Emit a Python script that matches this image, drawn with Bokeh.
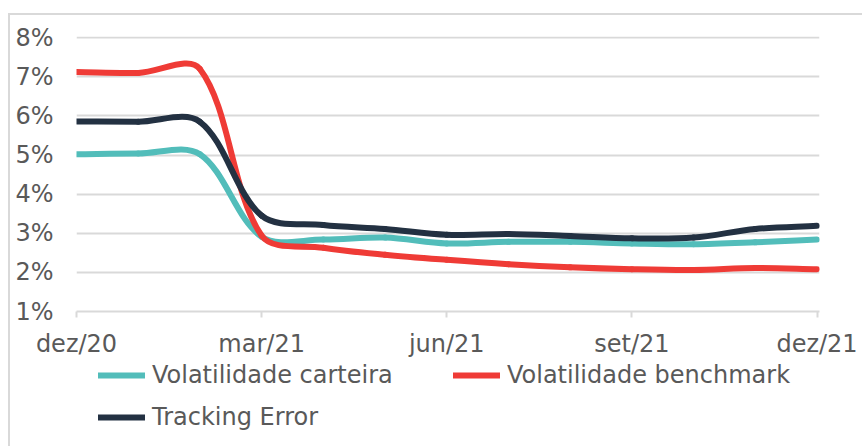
import math
from bokeh.plotting import figure
from bokeh.models import Range1d, FixedTicker, Legend, LegendItem
from bokeh.layouts import column
from bokeh.embed import file_html
from bokeh.resources import INLINE

# ---- data (values in %) ----
months = ["dez/20", "jan/21", "fev/21", "mar/21", "abr/21", "mai/21", "jun/21",
          "jul/21", "ago/21", "set/21", "out/21", "nov/21", "dez/21"]
month_idx = list(range(len(months)))
vol_carteira = [5.02, 5.04, 5.02, 2.91, 2.84, 2.89, 2.74, 2.78, 2.78, 2.74, 2.72, 2.77, 2.84]
vol_benchmark = [7.12, 7.10, 7.20, 2.94, 2.63, 2.45, 2.32, 2.21, 2.13, 2.08, 2.06, 2.11, 2.08]
tracking_error = [5.86, 5.85, 5.85, 3.45, 3.21, 3.11, 2.96, 2.98, 2.93, 2.87, 2.89, 3.11, 3.19]

x_tick_pos = [0, 3, 6, 9, 12]
x_tick_labels = ["dez/20", "mar/21", "jun/21", "set/21", "dez/21"]
y_tick_pos = [1, 2, 3, 4, 5, 6, 7, 8]
y_tick_labels = ["1%", "2%", "3%", "4%", "5%", "6%", "7%", "8%"]

series_names = ["Volatilidade carteira", "Volatilidade benchmark", "Tracking Error"]
series_colors = ["#52BDBA", "#EF3B36", "#233142"]

FONT = "DejaVu Sans"
TEXT_COLOR = "#595959"
GRID_COLOR = "#D9D9D9"

# approximate screen scale (px per month, px per %) used to weight the curve smoothing
PX_X, PX_Y = 61.75, 39.1


def smooth_segments(xs, ys):
    """Bezier segments with spreadsheet-style 'smoothed line' control points
    (Catmull-Rom tangents weighted by neighbouring segment lengths)."""
    n = len(xs)

    def dist(i, j):
        return math.hypot((xs[j] - xs[i]) * PX_X, (ys[j] - ys[i]) * PX_Y)

    d = dict(x0=[], y0=[], x1=[], y1=[], cx0=[], cy0=[], cx1=[], cy1=[])
    for i in range(n - 1):
        a = i - 1 if i > 0 else i
        b = i + 2 if i + 2 < n else i + 1
        d01, d12, d23 = dist(a, i), dist(i, i + 1), dist(i + 1, b)
        f1 = d12 / (d01 + d12) / 3.0 if d01 + d12 > 0 else 0.0
        f2 = d12 / (d12 + d23) / 3.0 if d12 + d23 > 0 else 0.0
        d["x0"].append(xs[i]); d["y0"].append(ys[i])
        d["x1"].append(xs[i + 1]); d["y1"].append(ys[i + 1])
        d["cx0"].append(xs[i] + (xs[i + 1] - xs[a]) * f1)
        d["cy0"].append(ys[i] + (ys[i + 1] - ys[a]) * f1)
        d["cx1"].append(xs[i + 1] - (xs[b] - xs[i]) * f2)
        d["cy1"].append(ys[i + 1] - (ys[b] - ys[i]) * f2)
    return d


series_values = [vol_carteira, vol_benchmark, tracking_error]

# ---------------- main chart ----------------
p = figure(width=854, height=346, output_backend="svg", toolbar_location=None,
           x_range=Range1d(0, 12.04), y_range=Range1d(1, 8.03),
           min_border_left=66, min_border_right=45, min_border_top=21, min_border_bottom=50,
           background_fill_color="white", border_fill_color="white")
p.outline_line_color = None

p.xgrid.visible = False
p.ygrid.ticker = FixedTicker(ticks=y_tick_pos)
p.ygrid.grid_line_color = GRID_COLOR
p.ygrid.grid_line_width = 2

p.xaxis.ticker = FixedTicker(ticks=x_tick_pos)
p.xaxis.major_label_overrides = dict(zip(x_tick_pos, x_tick_labels))
p.xaxis.axis_line_color = GRID_COLOR
p.xaxis.axis_line_width = 2
p.xaxis.major_tick_line_color = GRID_COLOR
p.xaxis.major_tick_line_width = 2
p.xaxis.major_tick_out = 6
p.xaxis.major_tick_in = 0
p.xaxis.minor_tick_line_color = None
p.xaxis.major_label_standoff = 12
p.xaxis.major_label_text_font = FONT
p.xaxis.major_label_text_font_size = "24px"
p.xaxis.major_label_text_color = TEXT_COLOR

p.yaxis.ticker = FixedTicker(ticks=y_tick_pos)
p.yaxis.major_label_overrides = dict(zip(y_tick_pos, y_tick_labels))
p.yaxis.axis_line_color = None
p.yaxis.major_tick_line_color = None
p.yaxis.minor_tick_line_color = None
p.yaxis.major_tick_out = 0
p.yaxis.major_tick_in = 0
p.yaxis.major_label_standoff = 23
p.yaxis.major_label_text_font = FONT
p.yaxis.major_label_text_font_size = "24px"
p.yaxis.major_label_text_color = TEXT_COLOR

for vals, color in zip(series_values, series_colors):
    seg = smooth_segments(month_idx, vals)
    p.bezier(x0="x0", y0="y0", x1="x1", y1="y1", cx0="cx0", cy0="cy0", cx1="cx1", cy1="cy1",
             source=seg, line_color=color, line_width=6, line_cap="round")

# ---------------- legend strip ----------------
lg_fig = figure(width=854, height=87, output_backend="svg", toolbar_location=None,
                x_range=Range1d(-100, -99), y_range=Range1d(-100, -99),
                x_axis_location=None, y_axis_location=None,
                min_border=0, background_fill_color="white", border_fill_color="white")
lg_fig.outline_line_color = None
lg_fig.grid.visible = False

# legend keys: same series, drawn in a strip whose ranges keep the lines out of view
proxies = [lg_fig.line(x=month_idx, y=vals, line_color=c, line_width=6, line_cap="round")
           for vals, c in zip(series_values, series_colors)]

legend = Legend(items=[LegendItem(label=n, renderers=[r]) for n, r in zip(series_names, proxies)],
                orientation="horizontal", ncols=2, location=(22, 17))
legend.label_text_font = FONT
legend.label_text_font_size = "24px"
legend.label_text_color = TEXT_COLOR
legend.glyph_width = 47
legend.glyph_height = 20
legend.label_standoff = 7
legend.label_width = 287
legend.spacing = 14
legend.padding = 0
legend.margin = 0
legend.border_line_color = None
legend.background_fill_alpha = 0
lg_fig.add_layout(legend, "center")

layout = column(p, lg_fig, spacing=0,
                styles={"margin-left": "10px", "margin-top": "15px",
                        "box-shadow": "-2px -2px 0 0 #D9D9D9"})

open("out.html", "w").write(file_html(layout, INLINE))
